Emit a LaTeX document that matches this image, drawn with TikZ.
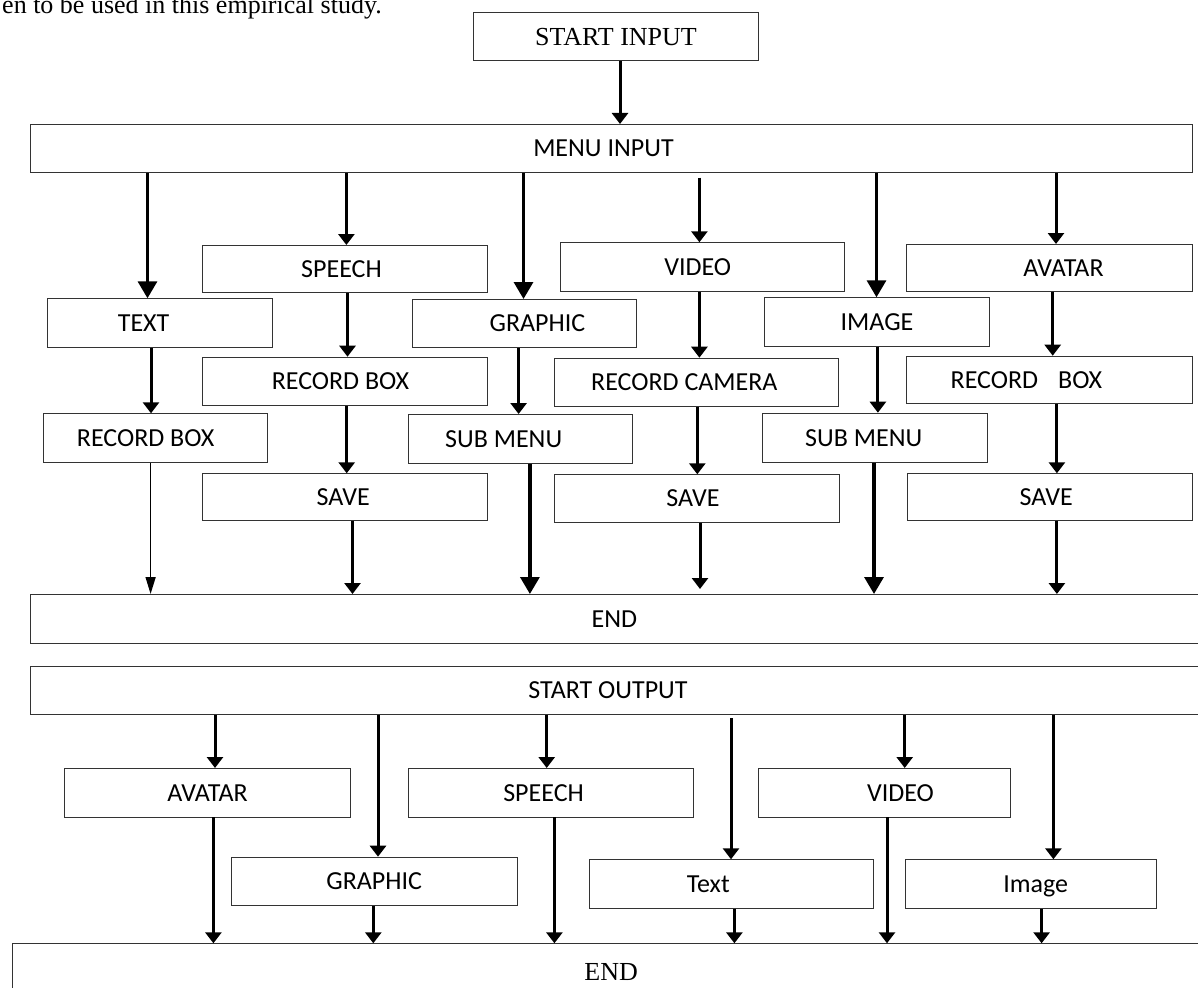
\documentclass[tikz,border=0pt]{standalone}
\usepackage{fontspec}
\setmainfont{Liberation Serif}
\newfontfamily\calib{Carlito}
\usetikzlibrary{arrows.meta}
\newcommand\tx[2]{\makebox[0pt]{\hspace*{#1pt}#2}}
\tikzset{
  box/.style={draw=black!80, line width=0.9pt, inner sep=0pt, anchor=north west,
    font=\calib\fontsize{26}{30}\selectfont, text height=16.7pt, text depth=0pt},
  sbox/.style={box, font=\rmfamily\fontsize{26}{30}\selectfont, text height=17.2pt},
  arr/.style={line width=3pt, -{Triangle[width=16pt,length=11pt]}},
  bigarr/.style={line width=3.3pt, -{Triangle[width=19pt,length=17pt]}},
  thinarr/.style={line width=1.5pt, -{Triangle[width=10pt,length=17pt]}},
}
\begin{document}
\begin{tikzpicture}[x=1pt,y=-1pt]
\useasboundingbox (0,0) rectangle (1198,987);
\clip (0,0) rectangle (1198,987);
\fill[white] (0,0) rectangle (1198,987);
% clipped page text
\node[font=\rmfamily\fontsize{26}{30}\selectfont, anchor=base east, inner sep=0pt] (cap) at (382,13.5) {en to be used in this empirical study.};
% input part
\node[sbox, minimum width=284.4pt, minimum height=48pt] (start) at (473.3,12) {\tx{0}{START INPUT}};
\node[box, minimum width=1162pt, minimum height=48pt] (menu) at (30,124) {\tx{-16}{MENU INPUT}};
\node[box, minimum width=285pt, minimum height=47.3pt] (speech) at (202,245) {\tx{-7}{SPEECH}};
\node[box, minimum width=284.5pt, minimum height=48.4pt] (video) at (559.5,242.3) {\tx{-9}{VIDEO}};
\node[box, minimum width=286pt, minimum height=46.7pt] (avatar) at (906,244) {\tx{28}{AVATAR}};
\node[box, minimum width=225pt, minimum height=48.4pt] (text) at (46.7,298.3) {\tx{-32}{TEXT}};
\node[box, minimum width=224.9pt, minimum height=48.3pt] (graphic) at (411.5,299) {\tx{26}{GRAPHIC}};
\node[box, minimum width=225pt, minimum height=48.4pt] (image) at (764,297.3) {\tx{0}{IMAGE}};
\node[box, minimum width=285pt, minimum height=48.3pt] (rbsp) at (202,356.7) {\tx{-9}{RECORD BOX}};
\node[box, minimum width=284.2pt, minimum height=48.3pt] (rcam) at (553.8,357.7) {\tx{-24}{RECORD CAMERA}};
\node[box, minimum width=286pt, minimum height=47.6pt] (rbav) at (906,355.7) {\tx{-46}{RECORD\hspace{20pt}BOX}};
\node[box, minimum width=224.5pt, minimum height=49pt] (rbtx) at (42.9,413.3) {\tx{-20}{RECORD BOX}};
\node[box, minimum width=224.4pt, minimum height=49.3pt] (subg) at (408,414) {\tx{-34}{SUB MENU}};
\node[box, minimum width=224.5pt, minimum height=49pt] (subi) at (762,412.7) {\tx{-22}{SUB MENU}};
\node[box, minimum width=285.4pt, minimum height=46.7pt] (savesp) at (202,473.3) {\tx{-4}{SAVE}};
\node[box, minimum width=284.1pt, minimum height=47.4pt] (savev) at (554.4,474.3) {\tx{-8}{SAVE}};
\node[box, minimum width=285.5pt, minimum height=46.7pt] (saveav) at (906.5,473.3) {\tx{-7}{SAVE}};
\node[box, minimum width=1176pt, minimum height=48.7pt] (endi) at (30,594) {\tx{-8}{END}};
% output part
\node[box, minimum width=1176pt, minimum height=48pt] (so) at (30,666) {\tx{-21}{START OUTPUT}};
\node[box, minimum width=285.4pt, minimum height=48.5pt] (oav) at (64.4,768) {\tx{0}{AVATAR}};
\node[box, minimum width=285.2pt, minimum height=48.5pt] (osp) at (407.5,768) {\tx{-14}{SPEECH}};
\node[box, minimum width=251.1pt, minimum height=48.5pt] (ovid) at (758.4,768) {\tx{32}{VIDEO}};
\node[box, minimum width=285.5pt, minimum height=48.6pt] (ogr) at (231,856.7) {\tx{0}{GRAPHIC}};
\node[box, minimum width=283.9pt, minimum height=48.7pt] (otx) at (588.9,859.3) {\tx{-46}{Text}};
\node[box, minimum width=251.1pt, minimum height=48.7pt] (oim) at (904.6,859.3) {\tx{10}{Image}};
\node[sbox, minimum width=1198.5pt, minimum height=57pt] (endo) at (11.5,943.3) {\tx{0}{END}};
% input arrows
\draw[arr] (start.south -| 620,0) -- (menu.north -| 620,0);
\draw[bigarr] (menu.south -| 147.5,0) -- (text.north -| 147.5,0);
\draw[arr] (menu.south -| 346.4,0) -- (speech.north -| 346.4,0);
\draw[bigarr] (menu.south -| 523.5,0) -- (graphic.north -| 523.5,0);
\draw[arr, shorten <=4.7pt] (menu.south -| 699.4,0) -- (video.north -| 699.4,0);
\draw[bigarr] (menu.south -| 876.5,0) -- (image.north -| 876.5,0);
\draw[arr] (menu.south -| 1056,0) -- (avatar.north -| 1056,0);
\draw[arr] (speech.south -| 347.5,0) -- (rbsp.north -| 347.5,0);
\draw[arr] (text.south -| 151,0) -- (rbtx.north -| 151,0);
\draw[arr] (graphic.south -| 518.6,0) -- (subg.north -| 518.6,0);
\draw[arr] (video.south -| 699.4,0) -- (rcam.north -| 699.4,0);
\draw[arr] (image.south -| 877.9,0) -- (subi.north -| 877.9,0);
\draw[arr] (avatar.south -| 1052.7,0) -- (rbav.north -| 1052.7,0);
\draw[arr] (rbsp.south -| 346.7,0) -- (savesp.north -| 346.7,0);
\draw[arr] (rcam.south -| 697.3,0) -- (savev.north -| 697.3,0);
\draw[arr] (rbav.south -| 1056.9,0) -- (saveav.north -| 1056.9,0);
\draw[thinarr] (rbtx.south -| 150.6,0) -- (endi.north -| 150.6,0);
\draw[arr] (savesp.south -| 352.5,0) -- (endi.north -| 352.5,0);
\draw[bigarr] (subg.south -| 529.9,0) -- (endi.north -| 529.9,0);
\draw[arr, shorten >=5pt] (savev.south -| 700,0) -- (endi.north -| 700,0);
\draw[bigarr] (subi.south -| 874,0) -- (endi.north -| 874,0);
\draw[arr] (saveav.south -| 1056.9,0) -- (endi.north -| 1056.9,0);
% output arrows
\draw[arr] (so.south -| 215,0) -- (oav.north -| 215,0);
\draw[arr] (so.south -| 378,0) -- (ogr.north -| 378,0);
\draw[arr] (so.south -| 546.7,0) -- (osp.north -| 546.7,0);
\draw[arr, shorten <=3.5pt] (so.south -| 731,0) -- (otx.north -| 731,0);
\draw[arr] (so.south -| 904.7,0) -- (ovid.north -| 904.7,0);
\draw[arr] (so.south -| 1053.4,0) -- (oim.north -| 1053.4,0);
\draw[arr] (oav.south -| 213.4,0) -- (endo.north -| 213.4,0);
\draw[arr] (ogr.south -| 373.3,0) -- (endo.north -| 373.3,0);
\draw[arr] (osp.south -| 554.4,0) -- (endo.north -| 554.4,0);
\draw[arr] (otx.south -| 734.4,0) -- (endo.north -| 734.4,0);
\draw[arr] (ovid.south -| 887,0) -- (endo.north -| 887,0);
\draw[arr] (oim.south -| 1041.6,0) -- (endo.north -| 1041.6,0);
\end{tikzpicture}
\end{document}
